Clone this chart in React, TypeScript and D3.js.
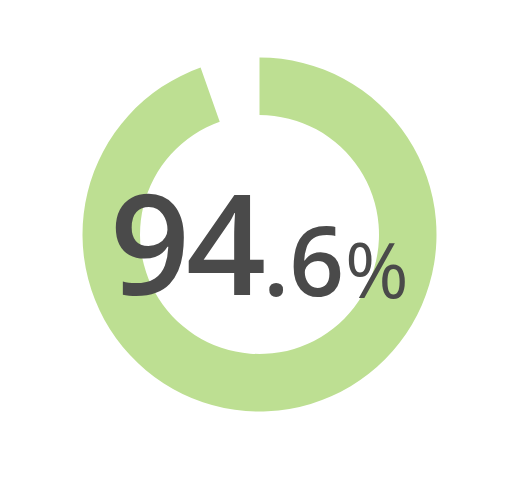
import React from "react";
import * as d3 from "d3";

const value = [94.6];
const intPart = ["94"];
const decPart = [".6"];
const unit = ["%"];

const W = 519;
const H = 489;
const CX = 259.5;
const CY = 234.5;
const OUTER = 177;
const INNER = 119.5;

export default function App() {
  const angle = d3.scaleLinear().domain([0, 100]).range([0, 2 * Math.PI]);
  const arc = d3
    .arc<any>()
    .innerRadius(INNER)
    .outerRadius(OUTER)
    .startAngle(0)
    .endAngle((d) => angle(d));

  return (
    <svg
      width={W}
      height={H}
      style={{ position: "absolute", left: 0, top: 0, background: "#fff" }}
    >
      <g transform={`translate(${CX},${CY})`}>
        {value.map((v, i) => (
          <path key={i} d={arc(v) as string} fill="#bddf92" />
        ))}
      </g>
      <text fill="#4a4a4a" fontFamily="'Open Sans', sans-serif">
        <tspan x={110} y={295} fontSize={140} fontWeight={650} letterSpacing={-4}>
          {intPart[0]}
        </tspan>
        <tspan x={263} y={296} fontSize={96} fontWeight={600}>
          {decPart[0]}
        </tspan>
        <tspan x={345} y={298} fontSize={77} fontWeight={500}>
          {unit[0]}
        </tspan>
      </text>
    </svg>
  );
}
